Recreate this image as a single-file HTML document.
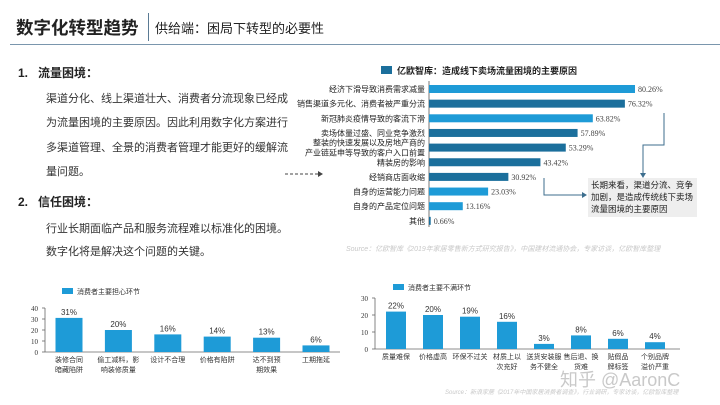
<!DOCTYPE html>
<html><head><meta charset="utf-8"><style>
body{margin:0;width:720px;height:405px;background:#fff;overflow:hidden;font-family:"Liberation Sans","Noto Sans CJK SC",sans-serif;position:relative}
.a{position:absolute;white-space:nowrap}
.p{font-size:11px;color:#333}
</style></head><body>
<div class="a" style="left:16px;top:15px;font-size:17.5px;font-weight:bold;color:#222">数字化转型趋势</div>
<div class="a" style="left:148px;top:13px;width:1px;height:28px;background:#5a7a94"></div>
<div class="a" style="left:155px;top:18px;font-size:13px;color:#222">供给端：困局下转型的必要性</div>
<div class="a" style="left:10px;top:44px;width:710px;height:1px;background:#7a96ad"></div>

<div class="a" style="left:18px;top:64px;font-size:12px;font-weight:bold;color:#222">1.&nbsp;&nbsp;&nbsp;流量困境：</div>
<div class="a p" style="left:46px;top:90px">渠道分化、线上渠道壮大、消费者分流现象已经成</div>
<div class="a p" style="left:46px;top:114px">为流量困境的主要原因。因此利用数字化方案进行</div>
<div class="a p" style="left:46px;top:139px">多渠道管理、全景的消费者管理才能更好的缓解流</div>
<div class="a p" style="left:46px;top:163px">量问题。</div>
<div class="a" style="left:18px;top:193px;font-size:12px;font-weight:bold;color:#222">2.&nbsp;&nbsp;&nbsp;信任困境：</div>
<div class="a p" style="left:46px;top:220px">行业长期面临产品和服务流程难以标准化的困境。</div>
<div class="a p" style="left:46px;top:243px">数字化将是解决这个问题的关键。</div>

<svg id="top" class="a" style="left:0;top:0" width="720" height="405"></svg>

<div class="a" style="left:588px;top:178px;width:103px;height:37px;background:#eeeeee;padding:1px 3px;font-size:8.5px;line-height:12px;color:#222;white-space:normal">长期来看，渠道分流、竞争加剧，是造成传统线下卖场流量困境的主要原因</div>
<div class="a" style="left:346px;top:244px;font-size:7px;font-style:italic;color:#c8c8c8">Source：亿欧智库《2019年家居零售新方式研究报告》，中国建材流通协会，专家访谈，亿欧智库整理</div>
<div class="a" style="left:560px;top:366px;font-size:18px;color:#c9c9c9">知乎 @AaronC</div>
<div class="a" style="left:445px;top:387px;font-size:6px;font-style:italic;color:#c8c8c8">Source：新浪家居《2017年中国家居消费者调查》，行业调研，专家访谈，亿欧智库整理</div>

<script>
const topCats=["经济下滑导致消费需求减量","销售渠道多元化、消费者被严重分流","新冠肺炎疫情导致的客流下滑","卖场体量过盛、同业竞争激烈","整装的快速发展以及房地产商的|产业链延申等导致的客户入口前置","精装房的影响","经销商店面收缩","自身的运营能力问题","自身的产品定位问题","其他"];
const topVals=[80.26,76.32,63.82,57.89,53.29,43.42,30.92,23.03,13.16,0.66];
const topLabels=["80.26%","76.32%","63.82%","57.89%","53.29%","43.42%","30.92%","23.03%","13.16%","0.66%"];
const blCats=["装修合同|暗藏陷阱","偷工减料，影|响装修质量","设计不合理","价格有陷阱","达不到预|期效果","工期拖延"];
const blVals=[31,20,16,14,13,6];
const blTicks=[0,10,20,30,40];
const brCats=["质量难保","价格虚高","环保不过关","材质上以|次充好","送货安装服|务不健全","售后退、换|货难","贴假品|牌标签","个别品牌|溢价严重"];
const brVals=[22,20,19,16,3,8,6,4];
const brTicks=[0,10,20,30];

const svg=document.getElementById('top');
const NS='http://www.w3.org/2000/svg';
function mk(t,at,txt){const e=document.createElementNS(NS,t);for(const k in at)e.setAttribute(k,at[k]);if(txt!=null)e.textContent=txt;svg.appendChild(e);return e;}

const tx0=429, tpx=206/80.26, ty0=89, tstep=14.65;
const shade=[0,1,0,1,1,1,1,0,0,1];
let e=mk('rect',{x:381,y:66,width:11,height:8,fill:'#1b6f9c'});

e=mk('text',{x:397,y:74,'font-size':9,'font-weight':'bold',fill:'#222'},'亿欧智库：造成线下卖场流量困境的主要原因');

e=mk('line',{x1:tx0,y1:81,x2:tx0,y2:227,stroke:'#555','stroke-width':0.8});

topVals.forEach((v,i)=>{
  const cy=ty0+i*tstep;
  const r=mk('rect',{x:tx0,y:cy-4,width:v*tpx,height:8,fill:shade[i]?'#1b6f9c':'#1e9bd7'});
  
  const t=mk('text',{x:tx0+v*tpx+3,y:cy+3,'font-size':8,fill:'#444','font-family':'Liberation Serif,serif'},topLabels[i]);
  
  const parts=topCats[i].split('|');
  parts.forEach((p,j)=>{
    const l=mk('text',{x:tx0-4,y:cy+3+(j-(parts.length-1)/2)*10,'font-size':8,fill:'#222','text-anchor':'end'},p);
    
  });
});
e=mk('path',{d:'M664 113 V145 H643 V175',fill:'none',stroke:'#3d6e8e','stroke-width':1});

e=mk('path',{d:'M640 173 L643 178 L646 173 Z',fill:'#3d6e8e'});

e=mk('path',{d:'M544 178 V195 H583',fill:'none',stroke:'#3d6e8e','stroke-width':1});

e=mk('path',{d:'M582 192 L587 195 L582 198 Z',fill:'#3d6e8e'});

e=mk('path',{d:'M285 174 H318',fill:'none',stroke:'#444','stroke-width':1,'stroke-dasharray':'3,2'});

e=mk('path',{d:'M318 171 L323 174 L318 177 Z',fill:'#444'});


function col(name,ax,ay0,pxPer,ticks,xs,bw,cats,vals,xEnd,legX,legY,legTxt){
  let e=mk('rect',{x:legX,y:legY,width:11,height:6,fill:'#1e9bd7'});
  
  e=mk('text',{x:legX+15,y:legY+6,'font-size':7,fill:'#333'},legTxt);
  
  const top=ay0-ticks[ticks.length-1]*pxPer;
  e=mk('line',{x1:ax,y1:top,x2:ax,y2:ay0,stroke:'#666','stroke-width':0.8});
  
  e=mk('line',{x1:ax,y1:ay0,x2:xEnd,y2:ay0,stroke:'#666','stroke-width':0.8});
  
  ticks.forEach(t=>{
    const y=ay0-t*pxPer;
    let k=mk('line',{x1:ax-3,y1:y,x2:ax,y2:y,stroke:'#666','stroke-width':0.8});
    
    k=mk('text',{x:ax-7,y:y+3,'font-size':7,fill:'#333','text-anchor':'end','font-family':'Liberation Serif,serif'},t);
    
  });
  vals.forEach((v,i)=>{
    const cx=xs(i);
    let r=mk('rect',{x:cx-bw/2,y:ay0-v*pxPer,width:bw,height:v*pxPer,fill:'#1e9bd7'});
    
    r=mk('text',{x:cx,y:ay0-v*pxPer-3,'font-size':8,fill:'#333','text-anchor':'middle'},v+'%');
    
    cats[i].split('|').forEach((p,j)=>{
      const l=mk('text',{x:cx,y:ay0+10+j*10,'font-size':7,fill:'#333','text-anchor':'middle'},p);
      
    });
  });
}
col('concern',45,352,1.1,blTicks,i=>69+i*49.4,27,blCats,blVals,340,62,288,'消费者主要担心环节');
col('dissatisfaction',375,349,1.7,brTicks,i=>396+i*37,20,brCats,brVals,680,393,284,'消费者主要不满环节');
</script>
</body></html>
